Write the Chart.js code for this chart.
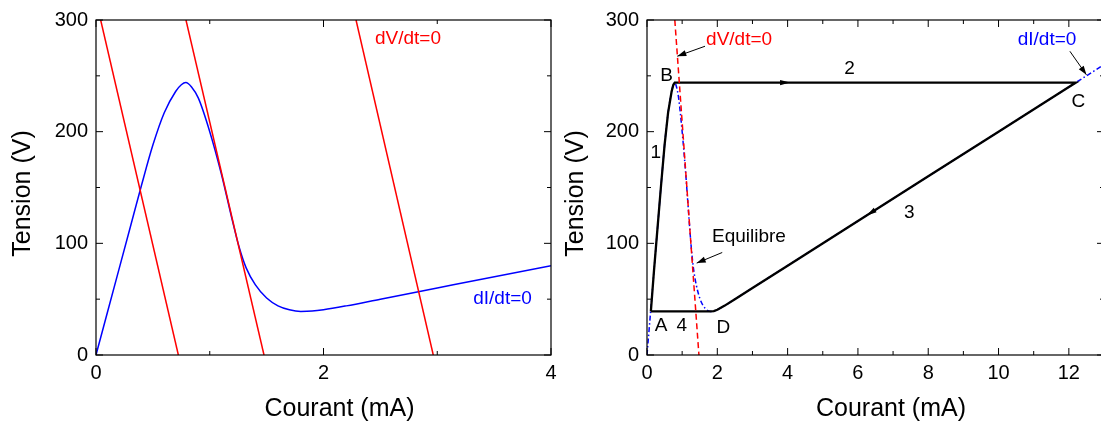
<!DOCTYPE html>
<html>
<head>
<meta charset="utf-8">
<script src="https://cdn.jsdelivr.net/npm/chart.js@4.4.1/dist/chart.umd.min.js"></script>
<style>
html, body { margin: 0; padding: 0; background: #fff; overflow: hidden; width: 1101px; height: 428px; }
.panel { position: absolute; top: 0; height: 428px; }
#left { left: 0; width: 570px; }
#right { left: 560px; width: 570px; }
</style>
</head>
<body>
<div class="panel" id="left"><canvas id="chartLeft" width="570" height="428"></canvas></div>
<div class="panel" id="right"><canvas id="chartRight" width="570" height="428"></canvas></div>
<script>
// --- data (I in mA, V in volts) ---

// dI/dt = 0 nullcline (blue)
const nullI = [0, 0.1, 0.2, 0.3, 0.4, 0.5, 0.6, 0.7, 0.75, 0.79, 0.84, 0.9, 1.0, 1.1, 1.2, 1.26, 1.32, 1.4, 1.5, 1.6, 1.7, 1.8, 1.9, 2.0, 2.2, 2.5, 3.0, 4.0, 6.0, 8.0, 10.0, 12.0, 13.0];
const nullV = [0, 38, 76, 114, 152, 188, 217, 236, 242, 244, 240, 230, 200, 163, 120, 96, 78, 63, 51, 44, 40.5, 39, 39.3, 40.5, 44, 50, 60, 80, 120, 160, 200, 240, 260];

// dV/dt = 0 load lines (red), end points
const loadV = [300, 0];
const load1I = [0.041, 0.724];
const load2I = [0.791, 1.477];
const load3I = [2.286, 2.965];

// relaxation cycle A -> B -> C -> D -> A (black)
const cycleI = [0.11, 0.2, 0.3, 0.4, 0.5, 0.6, 0.7, 0.75, 0.79, 12.2, 12.0, 10, 8, 6, 4, 3, 2.5, 2.2, 2.0, 1.9, 1.8, 0.11];
const cycleV = [39, 76, 114, 152, 188, 217, 236, 242, 244, 244, 240, 200, 160, 120, 80, 60, 50, 44, 40.5, 39.3, 39, 39];

// tick values
const yMajor = [0, 100, 200, 300];
const yMinor = [50, 150, 250];
const xMajorLeft = [0, 2, 4];
const xMinorLeft = [1, 3];
const xMajorRight = [0, 2, 4, 6, 8, 10, 12];
const xMinorRight = [1, 3, 5, 7, 9, 11, 13];

Chart.defaults.color = '#000';
Chart.defaults.font.family = "'Liberation Sans', Arial, sans-serif";

function pts(xs, ys) {
    return xs.map((x, i) => ({ x: x, y: ys[i] }));
}

// draws frame, inward ticks, axis titles, text labels and arrows
const decorPlugin = {
    id: 'decor',
    afterDatasetsDraw(chart, args, opts) {
        const ctx = chart.ctx;
        const a = chart.chartArea;
        const sx = chart.scales.x, sy = chart.scales.y;
        const px = v => sx.getPixelForValue(v);
        const py = v => sy.getPixelForValue(v);
        ctx.save();

        // frame
        ctx.strokeStyle = '#000';
        ctx.lineWidth = 1.2;
        ctx.strokeRect(a.left, a.top, a.right - a.left, a.bottom - a.top);

        // inward ticks on all four sides
        const xTicks = (vals, len) => vals.forEach(v => {
            const p = px(v);
            ctx.beginPath();
            ctx.moveTo(p, a.bottom); ctx.lineTo(p, a.bottom - len);
            ctx.moveTo(p, a.top); ctx.lineTo(p, a.top + len);
            ctx.stroke();
        });
        const yTicks = (vals, len) => vals.forEach(v => {
            const p = py(v);
            ctx.beginPath();
            ctx.moveTo(a.left, p); ctx.lineTo(a.left + len, p);
            ctx.moveTo(a.right, p); ctx.lineTo(a.right - len, p);
            ctx.stroke();
        });
        ctx.lineWidth = 1;
        xTicks(opts.xMajor, 7);
        xTicks(opts.xMinor, 4);
        yTicks(yMajor, 7);
        yTicks(yMinor, 4);

        // axis titles
        ctx.fillStyle = '#000';
        ctx.font = "25px 'Liberation Sans', Arial, sans-serif";
        ctx.textAlign = 'center';
        ctx.textBaseline = 'middle';
        ctx.fillText('Courant (mA)', (a.left + a.right) / 2 + opts.xTitleDx, 409);
        ctx.save();
        ctx.translate(opts.yTitleX, (a.top + a.bottom) / 2 + 6);
        ctx.rotate(-Math.PI / 2);
        ctx.fillText('Tension (V)', 0, 0);
        ctx.restore();

        // text labels
        ctx.font = "19px 'Liberation Sans', Arial, sans-serif";
        (opts.labels || []).forEach(l => {
            ctx.fillStyle = l.color || '#000';
            ctx.fillText(l.text, px(l.x), py(l.y));
        });

        // arrow head helper
        const head = (x0, y0, x1, y1, len, half) => {
            const ang = Math.atan2(y1 - y0, x1 - x0);
            ctx.beginPath();
            ctx.moveTo(x1, y1);
            ctx.lineTo(x1 - len * Math.cos(ang) + half * Math.sin(ang), y1 - len * Math.sin(ang) - half * Math.cos(ang));
            ctx.lineTo(x1 - len * Math.cos(ang) - half * Math.sin(ang), y1 - len * Math.sin(ang) + half * Math.cos(ang));
            ctx.closePath();
            ctx.fill();
        };

        ctx.strokeStyle = '#000';
        ctx.fillStyle = '#000';
        ctx.lineWidth = 1;
        (opts.arrows || []).forEach(r => {
            const x0 = px(r.from[0]), y0 = py(r.from[1]);
            const x1 = px(r.to[0]), y1 = py(r.to[1]);
            ctx.beginPath();
            ctx.moveTo(x0, y0);
            ctx.lineTo(x1, y1);
            ctx.stroke();
            head(x0, y0, x1, y1, 9, 3);
        });
        (opts.heads || []).forEach(h => {
            head(px(h.from[0]), py(h.from[1]), px(h.at[0]), py(h.at[1]), 10, 2.6);
        });

        ctx.restore();
    }
};

function makeOptions(xMax, yWidth, padRight, decor) {
    return {
        responsive: false,
        animation: false,
        layout: { padding: { top: 15, right: padRight, left: 0, bottom: 0 } },
        plugins: {
            legend: { display: false },
            tooltip: { enabled: false },
            decor: decor
        },
        elements: { point: { radius: 0 } },
        scales: {
            x: {
                type: 'linear', min: 0, max: xMax,
                grid: { display: false, drawTicks: false },
                border: { display: false },
                ticks: { stepSize: 2, includeBounds: false, maxRotation: 0, padding: 6, font: { size: 20 } },
                afterFit: s => { s.height = 73; }
            },
            y: {
                type: 'linear', min: 0, max: 300,
                grid: { display: false, drawTicks: false },
                border: { display: false },
                ticks: { stepSize: 100, includeBounds: false, padding: 8, font: { size: 20 } },
                afterFit: s => { s.width = yWidth; }
            }
        }
    };
}

// --- left panel: nullclines ---
new Chart(document.getElementById('chartLeft'), {
    type: 'scatter',
    data: {
        datasets: [
            { data: pts(load1I, loadV), showLine: true, borderColor: '#ff0000', borderWidth: 1.5, order: 0 },
            { data: pts(load2I, loadV), showLine: true, borderColor: '#ff0000', borderWidth: 1.5, order: 0 },
            { data: pts(load3I, loadV), showLine: true, borderColor: '#ff0000', borderWidth: 1.5, order: 0 },
            { data: pts(nullI, nullV), showLine: true, borderColor: '#0000ff', borderWidth: 1.5,
              cubicInterpolationMode: 'monotone', order: 1 }
        ]
    },
    options: makeOptions(4, 96, 19, {
        xMajor: xMajorLeft, xMinor: xMinorLeft, xTitleDx: 16, yTitleX: 23.5,
        labels: [
            { text: 'dV/dt=0', x: 2.743, y: 283, color: '#ff0000' },
            { text: 'dI/dt=0', x: 3.574, y: 50, color: '#0000ff' }
        ]
    }),
    plugins: [decorPlugin]
});

// --- right panel: relaxation cycle ---
new Chart(document.getElementById('chartRight'), {
    type: 'scatter',
    data: {
        datasets: [
            { data: pts(load2I, loadV), showLine: true, borderColor: '#ff0000', borderWidth: 1.5,
              borderDash: [6, 3.5], order: 0 },
            { data: pts(cycleI, cycleV), showLine: true, borderColor: '#000', borderWidth: 2.3, order: 1 },
            { data: pts(nullI, nullV), showLine: true, borderColor: '#0000ff', borderWidth: 1.5,
              borderDash: [5, 2.5, 1.5, 2.5], cubicInterpolationMode: 'monotone', order: 2 }
        ]
    },
    options: makeOptions(13, 87, 26, {
        xMajor: xMajorRight, xMinor: xMinorRight, xTitleDx: 15.5, yTitleX: 16,
        labels: [
            { text: 'dV/dt=0', x: 2.62, y: 282, color: '#ff0000' },
            { text: 'dI/dt=0', x: 11.38, y: 282, color: '#0000ff' },
            { text: 'B', x: 0.56, y: 250 },
            { text: '1', x: 0.25, y: 181 },
            { text: '2', x: 5.76, y: 256 },
            { text: '3', x: 7.46, y: 127 },
            { text: 'C', x: 12.27, y: 227 },
            { text: 'A', x: 0.40, y: 26.5 },
            { text: '4', x: 0.99, y: 26.5 },
            { text: 'D', x: 2.17, y: 24 },
            { text: 'Equilibre', x: 2.90, y: 106 }
        ],
        arrows: [
            { from: [1.65, 276.5], to: [0.862, 267.6] },
            { from: [2.14, 91.8], to: [1.414, 82.3] },
            { from: [12.03, 272], to: [12.50, 250.9] }
        ],
        heads: [
            { from: [3.5, 244], at: [4.07, 244] },
            { from: [7.0, 140], at: [6.25, 125] }
        ]
    }),
    plugins: [decorPlugin]
});
</script>
</body>
</html>
